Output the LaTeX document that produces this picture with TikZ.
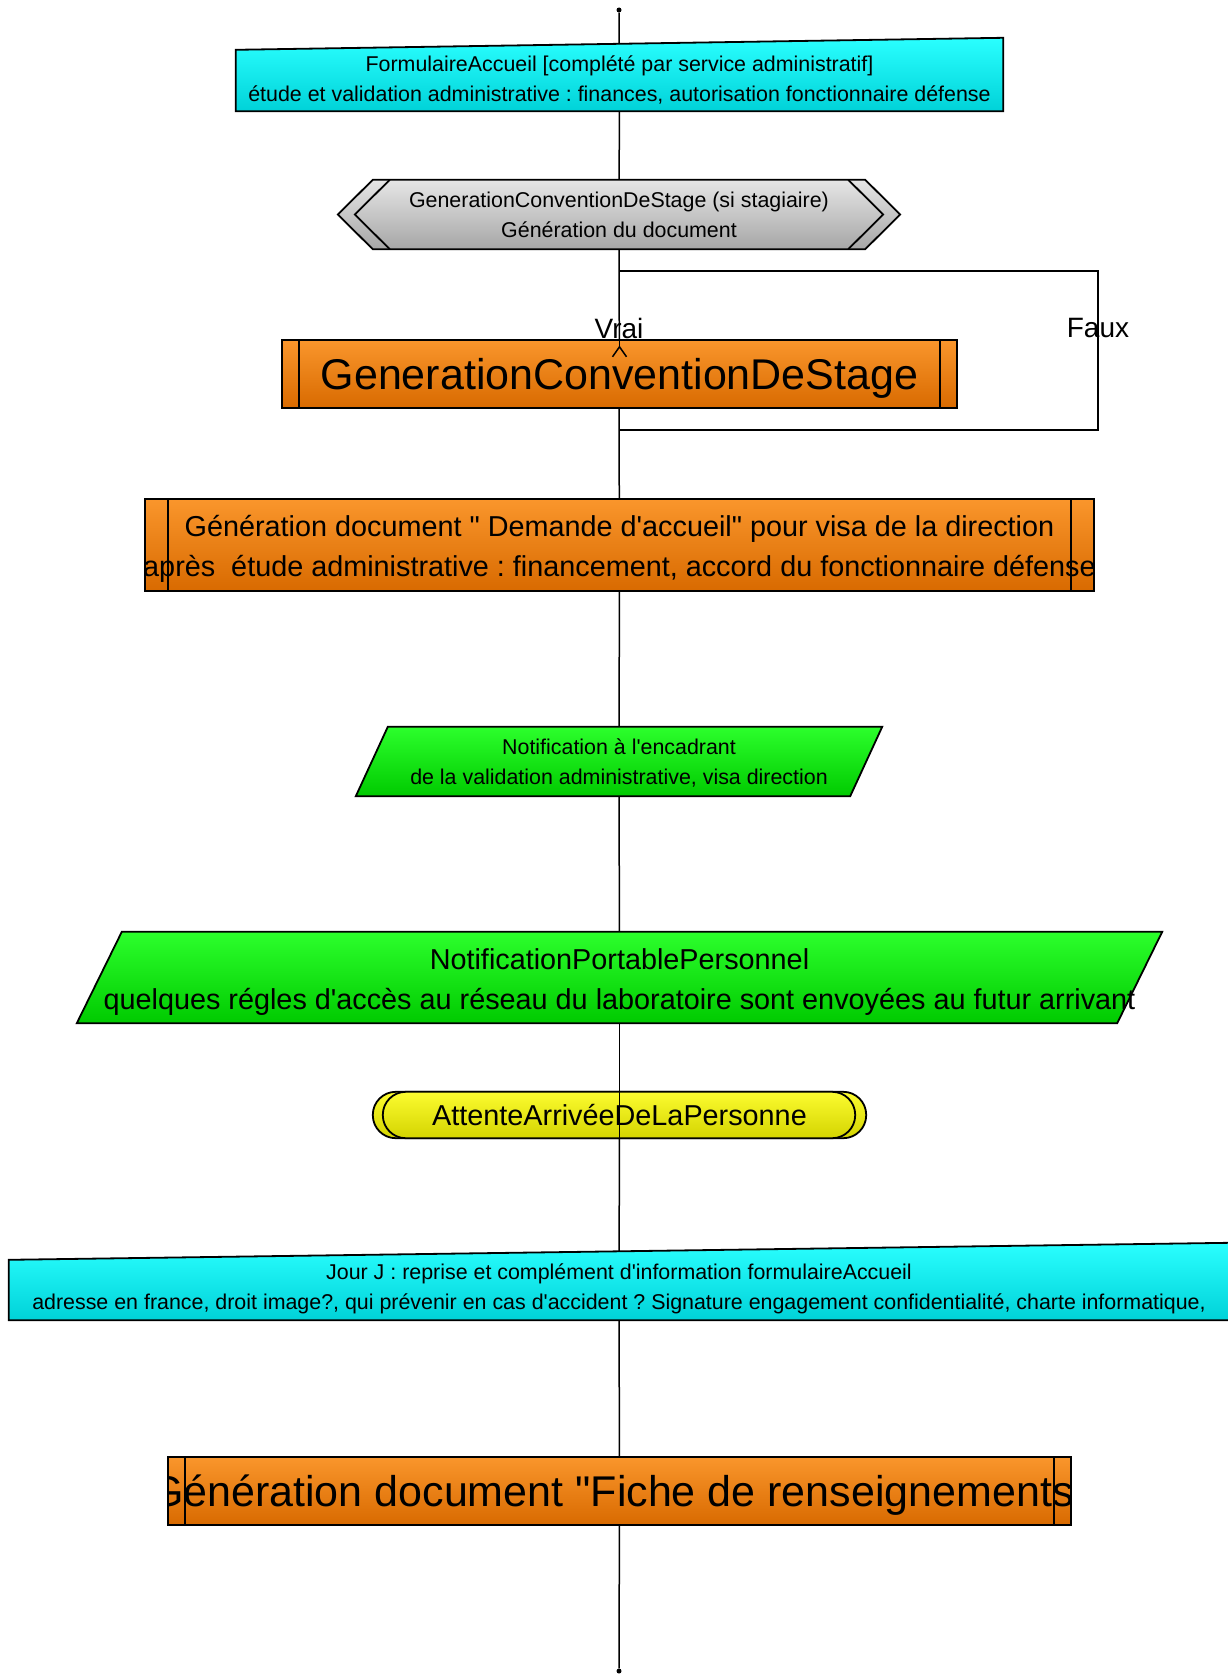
\documentclass[tikz,border=0pt]{standalone}
\usepackage{fontspec}
\setmainfont{Liberation Sans}[Ligatures=TeXOff]
\usepackage{tikz}
\usetikzlibrary{calc}
\usetikzlibrary{arrows.meta}
\tikzset{>=latex}

\definecolor{cyanhi}{HTML}{2AFFFF}
\definecolor{cyanlo}{HTML}{00D2D8}
\definecolor{orangehi}{HTML}{FA962C}
\definecolor{orangelo}{HTML}{D86A00}
\definecolor{grayhi}{HTML}{E6E6E6}
\definecolor{graylo}{HTML}{A6A6A6}
\definecolor{greenhi}{HTML}{2CFF2C}
\definecolor{greenlo}{HTML}{00CA00}
\definecolor{yellowhi}{HTML}{FCFC30}
\definecolor{yellowlo}{HTML}{D4D400}

\pgfdeclarelayer{wires}
\pgfdeclarelayer{shapes}
\pgfsetlayers{wires,shapes,main}

\tikzset{
    flowtext/.style={align=center, inner sep=0pt, text=black},
    smalltxt/.style={flowtext, font=\fontsize{21.4}{30}\selectfont},
    midtxt/.style={flowtext, font=\fontsize{28.8}{40}\selectfont},
    bigtxt/.style={flowtext, font=\fontsize{43}{50}\selectfont, text height=31pt, text depth=0pt},
    outline/.style={draw=black, line width=1.8pt},
    inputfill/.style={outline, top color=cyanhi, bottom color=cyanlo},
    procfill/.style={outline, top color=orangehi, bottom color=orangelo},
    gatefill/.style={outline, top color=grayhi, bottom color=graylo},
    notefill/.style={outline, top color=greenhi, bottom color=greenlo},
    waitfill/.style={outline, top color=yellowhi, bottom color=yellowlo},
    wire/.style={line width=1.5pt},
    enddot/.style={circle, fill=black, inner sep=0pt, minimum size=5pt},
}

\begin{document}
\frenchspacing
\begin{tikzpicture}[x=1pt, y=-1pt]
    \useasboundingbox (0,0) rectangle (1227,1675);

    \node[enddot] (start) at (619,10) {};
    \node[smalltxt, minimum width=767pt, minimum height=61pt] (form) at (619.5,80.5)
        {FormulaireAccueil [complété par service administratif]\\étude et validation administrative : finances, autorisation fonctionnaire défense\rule[-4.5pt]{0pt}{0pt}};
    \node[smalltxt, minimum width=562pt, minimum height=69pt] (hex) at (619,214.5)
        {GenerationConventionDeStage (si stagiaire)\\Génération du document};
    \coordinate (test) at (619,271);
    \node[font=\fontsize{28}{30}\selectfont, inner sep=0pt] (vrai) at (619,328) {Vrai};
    \node[font=\fontsize{28}{30}\selectfont, inner sep=0pt] (faux) at (1098,328) {Faux};
    \node[bigtxt, minimum width=675pt, minimum height=68pt] (conv) at (619.5,374)
        {GenerationConventionDeStage};
    \coordinate (join) at (619,430);
    \node[midtxt, minimum width=949pt, minimum height=92pt] (dem) at (619.5,545)
        {\rule{0pt}{28.7pt}\makebox[0pt]{Génération document " Demande d'accueil" pour visa de la direction}\\
         \makebox[0pt]{après~ étude administrative : financement, accord du fonctionnaire défense}};
    \node[smalltxt, minimum width=526pt, minimum height=69pt] (notif) at (619,761.5)
        {\rule{0pt}{19.5pt}Notification à l'encadrant\\de la validation administrative, visa direction};
    \node[midtxt, minimum width=1085pt, minimum height=91pt] (portable) at (619.5,977.5)
        {\rule{0pt}{29.6pt}NotificationPortablePersonnel\\quelques régles d'accès au réseau du laboratoire sont envoyées au futur arrivant};
    \node[midtxt, minimum width=493pt, minimum height=46pt] (attente) at (619.5,1115)
        {AttenteArrivéeDeLaPersonne};
    \node[smalltxt, minimum width=1220pt, minimum height=60pt] (jour) at (619,1290)
        {Jour J : reprise et complément d'information formulaireAccueil\\adresse en france, droit image?, qui prévenir en cas d'accident ? Signature engagement confidentialité, charte informatique,\rule[-7pt]{0pt}{0pt}};
    \node[inner sep=0pt, minimum width=903pt, minimum height=68pt] (fiche) at (619.5,1491) {};
    \node[enddot] (stop) at (619,1671) {};

    \begin{pgfonlayer}{wires}
        \draw[wire] (start) -- (form);
        \draw[wire] (form) -- (hex);
        \draw[wire] (hex) -- (test) -- (conv);
        \draw[wire] (test) -- (test -| faux) -- (join -| faux) -- (join);
        \draw[wire] (conv) -- (join) -- (dem);
        \draw[wire] (dem) -- (notif);
        \draw[wire] (notif) -- (portable);
        \draw[wire] (portable) -- (attente);
        \draw[wire] (attente) -- (jour);
        \draw[wire] (jour) -- (fiche);
        \draw[wire] (fiche) -- (stop);
    \end{pgfonlayer}

    \begin{pgfonlayer}{shapes}
        \draw[inputfill] (form.south west) -- (form.north west) -- ([yshift=12pt]form.north east) -- (form.south east) -- cycle;
        \draw[gatefill] (hex.west) -- ([xshift=35pt]hex.north west) -- ([xshift=-35pt]hex.north east)
            -- (hex.east) -- ([xshift=-35pt]hex.south east) -- ([xshift=35pt]hex.south west) -- cycle;
        \draw[procfill] (conv.north west) rectangle (conv.south east);
        \draw[procfill] (dem.north west) rectangle (dem.south east);
        \draw[notefill] ([xshift=32pt]notif.north west) -- (notif.north east)
            -- ([xshift=-32pt]notif.south east) -- (notif.south west) -- cycle;
        \draw[notefill] ([xshift=45pt]portable.north west) -- (portable.north east)
            -- ([xshift=-45pt]portable.south east) -- (portable.south west) -- cycle;
        \draw[waitfill, rounded corners=23pt] (attente.north west) rectangle (attente.south east);
        \draw[waitfill, rounded corners=23pt] ([xshift=10pt]attente.north west) rectangle ([xshift=-11pt]attente.south east);
        \draw[inputfill] (jour.south west) -- (jour.north west) -- ([yshift=17pt]jour.north east) -- (jour.south east) -- cycle;
        \draw[procfill] (fiche.north west) rectangle (fiche.south east);
    \end{pgfonlayer}

    \begin{scope}
        \clip (fiche.north west) rectangle (fiche.south east);
        \node[bigtxt] (fichetext) at (fiche) {\makebox[0pt]{Génération document "Fiche de renseignements"}};
    \end{scope}

    \draw[outline] ([xshift=52pt]hex.north west) -- ([xshift=17pt]hex.west) -- ([xshift=52pt]hex.south west);
    \draw[outline] ([xshift=-52pt]hex.north east) -- ([xshift=-17pt]hex.east) -- ([xshift=-52pt]hex.south east);
    \draw[outline] ([xshift=17pt]conv.north west) -- ([xshift=17pt]conv.south west);
    \draw[outline] ([xshift=-17pt]conv.north east) -- ([xshift=-17pt]conv.south east);
    \draw[wire] (conv.north) -- ([yshift=-7pt]conv.north);
    \draw[wire] ([xshift=-7pt,yshift=-17pt]conv.north) -- ([yshift=-7pt]conv.north) -- ([xshift=7pt,yshift=-17pt]conv.north);
    \draw[outline] ([xshift=23pt]dem.north west) -- ([xshift=23pt]dem.south west);
    \draw[outline] ([xshift=-23pt]dem.north east) -- ([xshift=-23pt]dem.south east);
    \draw[wire] (attente.north) -- (attente.south);
    \draw[outline] ([xshift=17pt]fiche.north west) -- ([xshift=17pt]fiche.south west);
    \draw[outline] ([xshift=-17pt]fiche.north east) -- ([xshift=-17pt]fiche.south east);
\end{tikzpicture}
\end{document}
